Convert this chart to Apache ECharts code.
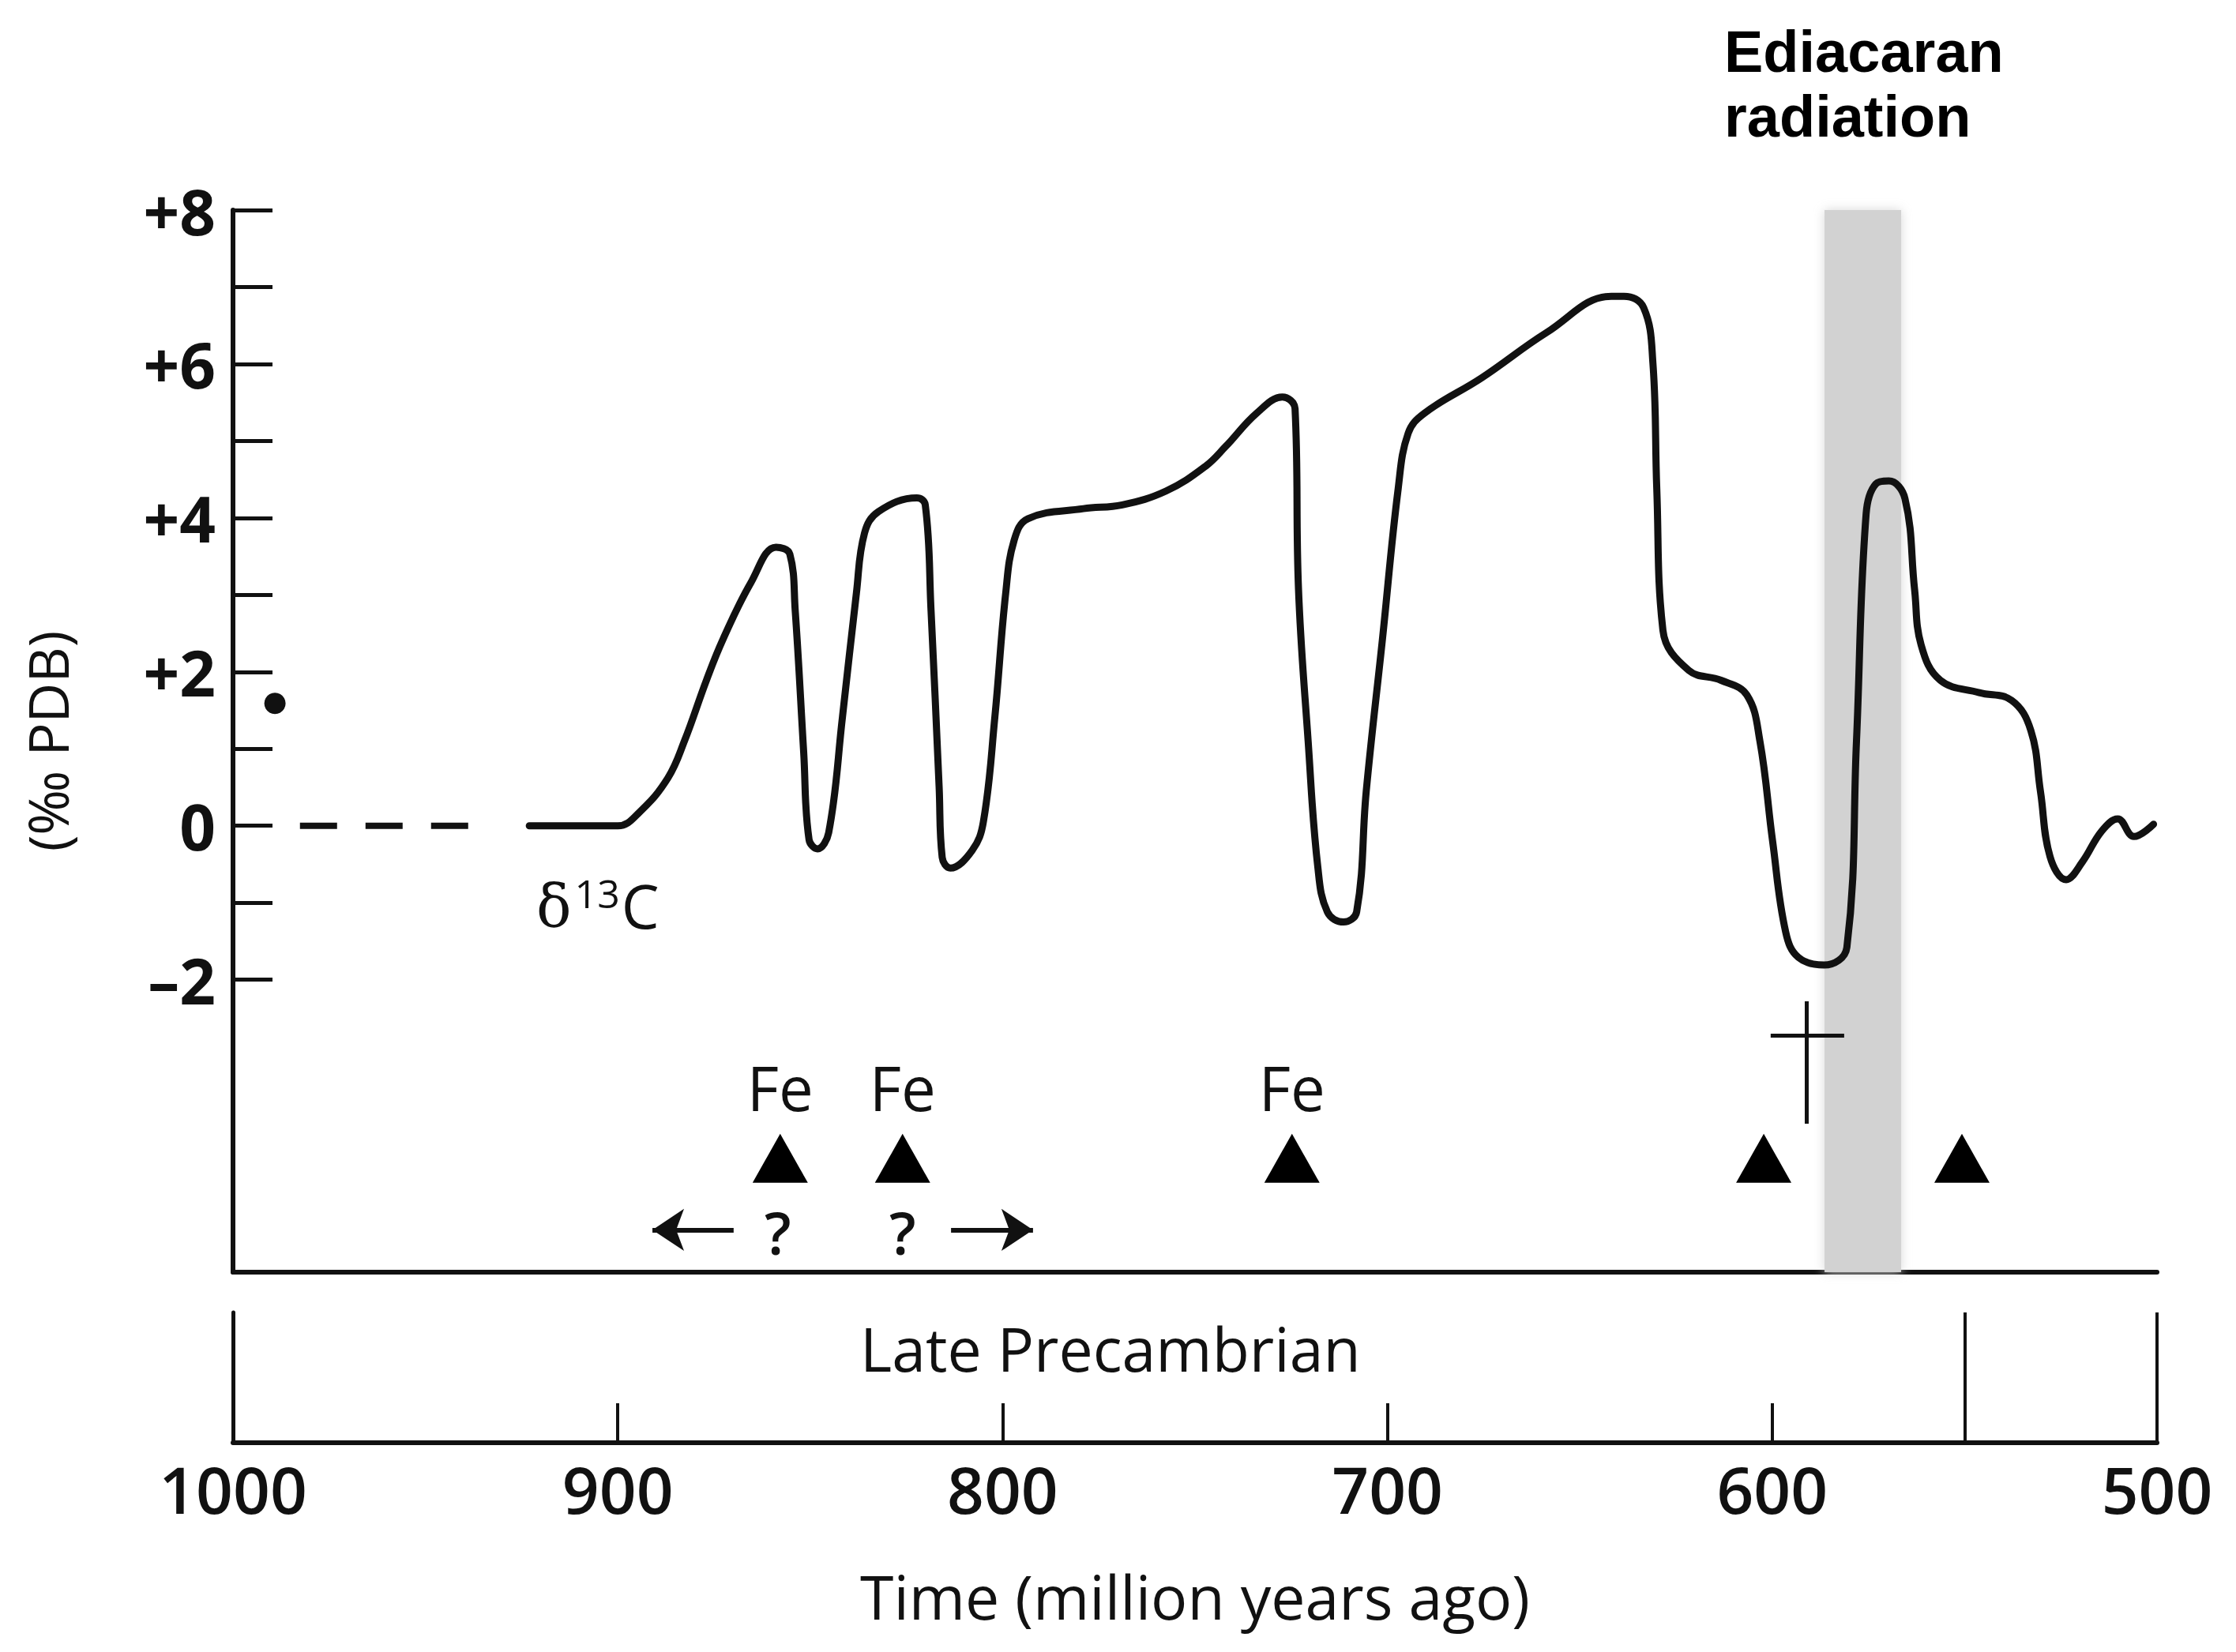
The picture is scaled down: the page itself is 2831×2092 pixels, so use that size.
<!DOCTYPE html>
<html>
<head>
<meta charset="utf-8">
<script src="https://cdn.jsdelivr.net/npm/echarts@6.0.0/dist/echarts.min.js"></script>
<style>
  html, body { margin: 0; padding: 0; background: #ffffff; }
  #chart { width: 2831px; height: 2092px; }
</style>
</head>
<body>
<div id="chart"></div>
<script>
// ---- Data ----
// delta 13C curve: time (Ma) and value (per mil PDB)
const ageMa = [923, 900, 894.3, 887, 882.7, 876.9, 872.6, 865.4, 858.9, 855.3,
  853.9, 851.7, 850.3, 848.1, 845.2, 841.6, 838, 835.9, 832.3, 822.3,
  820.1, 818.6, 816.5, 815.7, 813.6, 807.9, 805, 802, 799.2, 797,
  793.4, 779, 768.9, 757.5, 747.3, 742, 734, 727.3, 724, 723.1,
  720.6, 718.1, 715.6, 711.4, 708, 705.5, 701.3, 697.2, 694.6, 690.4,
  675.5, 658.6, 641.8, 638.5, 633.4, 631, 630, 628.4, 621.7, 613.3,
  606.6, 603.2, 599.9, 596.5, 593.2, 586.5, 580.6, 578.1, 575.6, 573.1,
  569.7, 565.5, 563, 561.3, 556.3, 546.2, 537.8, 532.8, 530.3, 527.8,
  523.6, 519.4, 514.4, 510.2, 506, 500.9];
const d13C = [0, 0, 0.18, 0.62, 1.10, 1.90, 2.43, 3.16, 3.62, 3.53,
  2.80, 0.96, -0.18, -0.30, -0.09, 1.42, 3.02, 3.80, 4.08, 4.26,
  4.17, 2.80, 0.51, -0.41, -0.55, -0.32, 0.05, 1.42, 3.02, 3.71,
  3.99, 4.12, 4.17, 4.35, 4.67, 4.93, 5.36, 5.57, 5.42, 3.07,
  1.10, -0.53, -1.12, -1.25, -1.12, 0.45, 2.42, 4.38, 5.10, 5.36,
  5.82, 6.41, 6.88, 6.88, 6.73, 6.01, 4.38, 2.54, 2.02, 1.89,
  1.70, 1.10, -0.20, -1.38, -1.71, -1.81, -1.58, 1.10, 4.05, 4.44,
  4.48, 4.25, 3.07, 2.35, 1.89, 1.73, 1.63, 1.24, 0.45, -0.40,
  -0.70, -0.47, -0.07, 0.09, -0.14, 0.02];
// uncertain (dashed) earlier segment
const dashedAge = [982.6, 938.8];
const dashedVal = [0, 0];
// isolated measurement (dot)
const dotAge = [989.1];
const dotVal = [1.59];
// iron formations (Fe) and other glaciation markers (triangles)
const feAges = [857.8, 826, 724.8];
const otherMarkerAges = [602.2, 550.7];
const feLabels = ['Fe', 'Fe', 'Fe'];
// uncertain-age question marks
const questionAges = [858.4, 826];
// arrows [from, to (tip)]
const arrowRanges = [[869.9, 891.0], [813.4, 792.1]];
// extinction dagger
const daggerAge = 591.1;
const daggerBar = [600.4, 581.3];
// Ediacaran radiation band
const radiationBand = [586.4, 566.5];
// period box
const periodName = 'Late Precambrian';
const periodLabelAge = 772;
const periodBoundaries = [550, 500];
// axes
const xTicks = [1000, 900, 800, 700, 600, 500];
const yLabelValues = [-2, 0, 2, 4, 6, 8];
const yTickValues = [-2, -1, 0, 1, 2, 3, 4, 5, 6, 7, 8];
const yMin = -5.8, yMax = 8;

// ---- Layout constants (rows in data units) ----
const ROW_FE = -3.40, ROW_TRI = -4.32, ROW_Q = -5.28, ROW_ARROW = -5.25;
const DAG_TOP = -2.28, DAG_BOTTOM = -3.87, DAG_BAR = -2.72;
const LABEL_D13C = [905.2, -1.02];

const FONT = '"Open Sans", "Noto Sans", sans-serif';
const INK = '#111111';

const chart = echarts.init(document.getElementById('chart'), null, { renderer: 'svg' });

const hiddenItem = { color: 'rgba(0,0,0,0)', opacity: 1 };

const option = {
  animation: false,
  backgroundColor: '#ffffff',
  title: {
    text: 'Ediacaran\nradiation',
    left: 2183, top: 24, padding: 0,
    textStyle: { fontFamily: '"Liberation Sans", Arial, sans-serif', fontWeight: 'bold', fontSize: 74, lineHeight: 82, color: '#000' }
  },
  grid: [
    { left: 295, top: 266, width: 2436, height: 1345 },
    { left: 295, top: 1662, width: 2436, height: 165 }
  ],
  xAxis: [
    {
      gridIndex: 0, type: 'value', min: 500, max: 1000, inverse: true,
      axisLine: { show: true, onZero: false, lineStyle: { color: INK, width: 6 } },
      axisTick: { show: false }, axisLabel: { show: false }, splitLine: { show: false }
    },
    {
      gridIndex: 1, type: 'value', min: 500, max: 1000, interval: 100, inverse: true,
      position: 'bottom',
      axisLine: { show: true, onZero: false, lineStyle: { color: INK, width: 6 } },
      axisTick: { show: true, inside: true, length: 50, lineStyle: { color: INK, width: 4 } },
      axisLabel: { show: true, margin: 17, fontSize: 82, fontFamily: FONT, fontWeight: 600, color: INK,
        customValues: xTicks, formatter: v => String(v) },
      splitLine: { show: false },
      name: 'Time (million years ago)', nameLocation: 'middle', nameGap: 156,
      nameTextStyle: { fontSize: 77, fontFamily: FONT, color: INK }
    }
  ],
  yAxis: [
    {
      gridIndex: 0, type: 'value', min: yMin, max: yMax,
      axisLine: { show: true, onZero: false, lineStyle: { color: INK, width: 6 } },
      axisTick: { show: true, inside: true, length: 50, lineStyle: { color: INK, width: 5 }, customValues: yTickValues },
      axisLabel: { show: true, margin: 22, fontSize: 80, fontFamily: FONT, fontWeight: 'bold', color: INK,
        customValues: yLabelValues,
        formatter: v => v > 0 ? '+' + v : (v < 0 ? '\u2013' + Math.abs(v) : '0') },
      splitLine: { show: false },
      name: '(\u2030 PDB)', nameLocation: 'middle', nameRotate: 90, nameGap: 200,
      nameTextStyle: { fontSize: 70, fontFamily: FONT, color: INK }
    },
    {
      gridIndex: 1, type: 'value', min: 0, max: 1,
      axisLine: { show: true, onZero: false, lineStyle: { color: INK, width: 5 } },
      axisTick: { show: false }, axisLabel: { show: false }, splitLine: { show: false }
    }
  ],
  series: [
    {
      name: 'δ13C', type: 'line', xAxisIndex: 0, yAxisIndex: 0,
      data: ageMa.map((a, i) => [a, d13C[i]]),
      showSymbol: false, smooth: 0.4,
      lineStyle: { color: INK, width: 9, cap: 'round', join: 'round' },
      z: 5,
      markArea: {
        silent: true,
        itemStyle: { color: '#d2d2d2', shadowBlur: 14, shadowColor: '#d8d8d8' },
        data: [[{ xAxis: radiationBand[0], yAxis: yMax }, { xAxis: radiationBand[1], yAxis: yMin }]]
      }
    },
    {
      name: 'dashed', type: 'line', xAxisIndex: 0, yAxisIndex: 0,
      data: dashedAge.map((a, i) => [a, dashedVal[i]]),
      showSymbol: false,
      lineStyle: { color: INK, width: 8, type: [47, 36] }
    },
    {
      name: 'dot', type: 'scatter', xAxisIndex: 0, yAxisIndex: 0,
      data: dotAge.map((a, i) => [a, dotVal[i]]),
      symbolSize: 27, itemStyle: { color: INK, opacity: 1 }
    },
    {
      name: 'markers', type: 'scatter', xAxisIndex: 0, yAxisIndex: 0,
      data: feAges.concat(otherMarkerAges).map(a => [a, ROW_TRI]),
      symbol: 'triangle', symbolSize: [70, 62], itemStyle: { color: '#000', opacity: 1 }, z: 6
    },
    {
      name: 'Fe', type: 'scatter', xAxisIndex: 0, yAxisIndex: 0,
      data: feAges.map((a, i) => ({ value: [a, ROW_FE], name: feLabels[i] })),
      symbolSize: 1, itemStyle: hiddenItem,
      label: { show: true, position: 'inside', formatter: p => p.name, fontSize: 78, fontFamily: FONT, color: INK, opacity: 1 }
    },
    {
      name: 'question', type: 'scatter', xAxisIndex: 0, yAxisIndex: 0,
      data: questionAges.map(a => [a, ROW_Q]),
      symbolSize: 1, itemStyle: hiddenItem,
      label: { show: true, position: 'inside', formatter: '?', fontSize: 74, fontFamily: FONT, fontWeight: 600, color: INK, opacity: 1 }
    },
    {
      name: 'arrows', type: 'lines', coordinateSystem: 'cartesian2d', xAxisIndex: 0, yAxisIndex: 0,
      data: arrowRanges.map(r => ({ coords: [[r[0], ROW_ARROW], [r[1], ROW_ARROW]] })),
      symbol: ['none', 'arrow'], symbolSize: 40,
      lineStyle: { color: INK, width: 6, opacity: 1, curveness: 0 }
    },
    {
      name: 'dagger', type: 'lines', coordinateSystem: 'cartesian2d', xAxisIndex: 0, yAxisIndex: 0,
      data: [
        { coords: [[daggerAge, DAG_TOP], [daggerAge, DAG_BOTTOM]] },
        { coords: [[daggerBar[0], DAG_BAR], [daggerBar[1], DAG_BAR]] }
      ],
      symbol: 'none',
      lineStyle: { color: INK, width: 5, opacity: 1, curveness: 0 }
    },
    {
      name: 'd13C label', type: 'scatter', xAxisIndex: 0, yAxisIndex: 0,
      data: [LABEL_D13C],
      symbolSize: 1, itemStyle: hiddenItem,
      label: {
        show: true, position: 'inside', opacity: 1,
        formatter: '{d|δ}{s|13}{c|C}',
        rich: {
          d: { fontSize: 74, fontFamily: '"DejaVu Serif", "Liberation Serif", serif', color: INK, lineHeight: 78, verticalAlign: 'bottom' },
          s: { fontSize: 50, fontFamily: FONT, color: INK, lineHeight: 78, verticalAlign: 'top', padding: [0, 2, 0, 4] },
          c: { fontSize: 76, fontFamily: FONT, color: INK, lineHeight: 78, verticalAlign: 'bottom' }
        }
      }
    },
    {
      name: 'period', type: 'scatter', xAxisIndex: 1, yAxisIndex: 1,
      data: [[periodLabelAge, 0.727]],
      symbolSize: 1, itemStyle: hiddenItem,
      label: { show: true, position: 'inside', formatter: periodName, fontSize: 77, fontFamily: FONT, color: INK, opacity: 1 },
      markLine: {
        silent: true, symbol: 'none', label: { show: false },
        lineStyle: { color: INK, width: 4, type: 'solid' },
        data: periodBoundaries.map(b => ({ xAxis: b }))
      }
    }
  ]
};
chart.setOption(option);
</script>
</body>
</html>
